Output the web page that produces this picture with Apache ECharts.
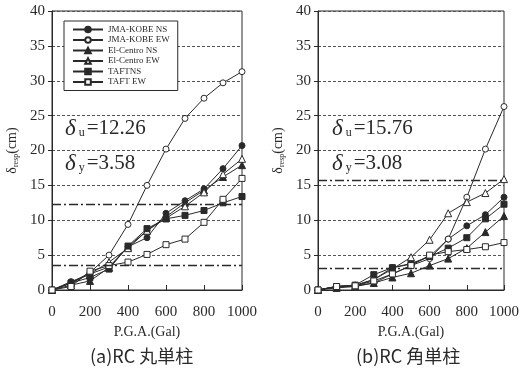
<!DOCTYPE html>
<html><head><meta charset="utf-8">
<script src="https://cdn.jsdelivr.net/npm/echarts@6/dist/echarts.min.js"></script>
<style>html,body{margin:0;padding:0;background:#fff}#c{width:522px;height:371px}</style>
</head><body><div id="c"></div>
<script>
var pga = [0,100,200,300,400,500,600,700,800,900,1000];
var seriesNames = ['JMA-KOBE NS','JMA-KOBE EW','El-Centro NS','El-Centro EW','TAFTNS','TAFT EW'];
// (a) RC round single column
var a_kobeNS = [0,1.2,2.3,3.3,6.2,7.5,11.0,12.8,14.5,17.4,20.7];
var a_kobeEW = [0,1.0,2.5,5.0,9.4,15.0,20.2,24.6,27.5,29.7,31.3];
var a_elNS   = [0,0.7,1.3,3.2,6.2,8.5,10.5,12.5,14.3,16.2,17.9];
var a_elEW   = [0,1.0,2.3,4.0,6.0,8.5,10.3,12.0,14.0,16.6,18.8];
var a_taftNS = [0,1.0,1.8,3.0,6.3,8.8,10.2,10.7,11.4,12.5,13.4];
var a_taftEW = [0,0.5,2.7,3.5,4.0,5.1,6.5,7.3,9.7,13.0,16.0];
// (b) RC square single column
var b_kobeNS = [0,0.5,0.7,1.5,3.2,3.8,4.8,7.3,9.2,10.8,13.3];
var b_kobeEW = [0,0.5,0.6,1.0,2.3,3.5,4.5,7.3,13.3,20.2,26.3];
var b_elNS   = [0,0.3,0.5,1.0,1.8,2.4,3.5,4.5,6.0,8.3,10.6];
var b_elEW   = [0,0.5,0.6,1.5,3.0,4.7,7.2,11.0,12.6,13.9,15.9];
var b_taftNS = [0,0.5,0.7,2.2,3.2,3.7,4.8,6.0,7.5,10.2,12.3];
var b_taftEW = [0,0.5,0.6,1.3,2.3,3.5,5.0,5.5,5.8,6.2,6.8];
var a_limits = [12.26, 3.58];
var b_limits = [15.76, 3.08];

var symbols = ['circle','circle','triangle','triangle','rect','rect'];
var filled  = [true,false,true,false,true,false];
var ink = '#2a2a2a';

function pairs(v){ return pga.map(function(x,i){ return [x, v[i]]; }); }

var chart = echarts.init(document.getElementById('c'));
var serif = '"Liberation Serif","DejaVu Serif",serif';

function mkSeries(arr, gi, limits){
  return arr.map(function(v, k){
    var s = {
      name: seriesNames[k], type: 'line', xAxisIndex: gi, yAxisIndex: gi,
      data: pairs(v), symbol: symbols[k], symbolSize: symbols[k]==='triangle'?7:6,
      showSymbol: true,
      lineStyle: {color: ink, width: 1},
      itemStyle: {color: filled[k] ? ink : '#fff', borderColor: ink, borderWidth: 1},
      z: 3, animation: false
    };
    if (k === 0) {
      s.markLine = {
        silent: true, symbol: ['none','none'], label: {show:false},
        lineStyle: {color: ink, width: 1.3, type: [9,3,2,3]},
        data: limits.map(function(l){ return {yAxis: l}; })
      };
    }
    return s;
  });
}

function xAxis(gi){
  return {
    type: 'value', gridIndex: gi, min: 0, max: 1000, interval: 200,
    name: 'P.G.A.(Gal)', nameLocation: 'middle', nameGap: 35,
    nameTextStyle: {fontFamily: serif, fontSize: 14, color: ink},
    axisLine: {lineStyle: {color: ink, width: 1}},
    axisTick: {inside: true, length: 5, lineStyle: {color: ink}},
    axisLabel: {fontFamily: serif, fontSize: 15, color: ink, margin: 15,
      formatter: function(v){ return String(v); }},
    splitLine: {show: false}
  };
}
function yAxis(gi){
  return {
    type: 'value', gridIndex: gi, min: 0, max: 40, interval: 5,
    name: 'δ{s|resp}(cm)', nameLocation: 'middle', nameGap: 32,
    nameTextStyle: {fontFamily: serif, fontSize: 14, color: ink,
      rich: {s: {fontFamily: serif, fontSize: 8, color: ink, padding:[8,0,0,0]}}},
    axisLine: {lineStyle: {color: ink, width: 1}},
    axisTick: {length: 4, lineStyle: {color: ink}},
    axisLabel: {fontFamily: serif, fontSize: 15, color: ink, margin: 7},
    splitLine: {show: true, lineStyle: {color: '#555', type: [3,2], width: 1}}
  };
}

function deltaText(x, y, sub, val){
  return {
    type: 'text', left: x, top: y, z: 10,
    style: {
      text: '{d|δ}{s| ' + sub + '}{v|=' + val + '}',
      rich: {
        d: {fontFamily: serif, fontSize: 23, fontStyle: 'italic', fill: ink},
        s: {fontFamily: serif, fontSize: 12, fill: ink, padding: [8,2,0,0]},
        v: {fontFamily: serif, fontSize: 21, fill: ink}
      }
    }
  };
}

chart.setOption({
  animation: false,
  grid: [
    {left: 52, right: 280, top: 11, bottom: 81, show: true, borderColor: ink, borderWidth: 1},
    {left: 318, right: 14, top: 11, bottom: 81, show: true, borderColor: ink, borderWidth: 1}
  ],
  xAxis: [xAxis(0), xAxis(1)],
  yAxis: [yAxis(0), yAxis(1)],
  legend: {
    data: seriesNames, orient: 'vertical', left: 64, top: 21,
    itemWidth: 30, itemHeight: 7, itemGap: 1.5,
    backgroundColor: '#fff', borderColor: ink, borderWidth: 1,
    padding: [4, 8, 4, 8],
    textStyle: {fontFamily: serif, fontSize: 9, color: ink},
    inactiveColor: ink, selectedMode: false
  },
  graphic: [
    deltaText(65, 117, 'u', a_limits[0].toFixed(2)),
    deltaText(65, 152, 'y', a_limits[1].toFixed(2)),
    deltaText(332, 117, 'u', b_limits[0].toFixed(2)),
    deltaText(332, 152, 'y', b_limits[1].toFixed(2)),
    {type: 'text', left: 90, top: 347, style: {text: '(a)RC 丸単柱', font: '18px "Noto Sans CJK JP"', fill: ink}},
    {type: 'text', left: 356, top: 347, style: {text: '(b)RC 角単柱', font: '18px "Noto Sans CJK JP"', fill: ink}}
  ],
  series: mkSeries([a_kobeNS,a_kobeEW,a_elNS,a_elEW,a_taftNS,a_taftEW], 0, a_limits)
    .concat(mkSeries([b_kobeNS,b_kobeEW,b_elNS,b_elEW,b_taftNS,b_taftEW], 1, b_limits))
});
</script></body></html>
